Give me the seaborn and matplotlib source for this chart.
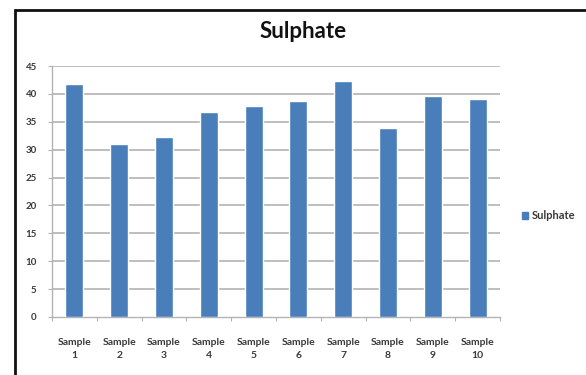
import matplotlib
matplotlib.use("Agg")
import matplotlib.pyplot as plt
import matplotlib.patches as mpatches
import matplotlib.lines as mlines
import seaborn as sns
import pandas as pd

samples = ["Sample\n1", "Sample\n2", "Sample\n3", "Sample\n4", "Sample\n5",
           "Sample\n6", "Sample\n7", "Sample\n8", "Sample\n9", "Sample\n10"]
sulphate = [41.7, 31.0, 32.2, 36.8, 37.8, 38.8, 42.3, 33.9, 39.6, 39.1]
y_ticks = [0, 5, 10, 15, 20, 25, 30, 35, 40, 45]

bar_color = "#4a7ebb"
grid_color = "#b3b3b3"
text_color = "#3a3a3a"

sns.set_theme(style="white")
plt.rcParams["font.family"] = ["Lato", "DejaVu Sans"]

df = pd.DataFrame({"Sample": samples, "Sulphate": sulphate})

fig = plt.figure(figsize=(5.86, 3.75), dpi=100, facecolor="white")
ax = fig.add_axes([52 / 586, 1 - 317 / 375, 448 / 586, 251 / 375])

sns.barplot(data=df, x="Sample", y="Sulphate", color=bar_color, width=0.4,
            saturation=1, ax=ax, zorder=3)

ax.set_ylim(0, 45)
ax.set_xlim(-0.5, len(samples) - 0.5)
ax.set_yticks(y_ticks)
ax.set_yticklabels([str(t) for t in y_ticks], fontsize=7, color=text_color,
                   fontweight="bold")
ax.set_xticks(range(len(samples)))
ax.set_xticklabels(samples, fontsize=7.5, color=text_color, linespacing=1.55,
                   fontweight="bold")
ax.set_xlabel("")
ax.set_ylabel("")

# horizontal gridlines
for t in y_ticks[1:]:
    ax.axhline(t, color=grid_color, lw=1.2, zorder=1)

for side in ["top", "right"]:
    ax.spines[side].set_visible(False)
ax.spines["left"].set_color(grid_color)
ax.spines["bottom"].set_color(grid_color)
ax.spines["left"].set_linewidth(1.0)
ax.spines["bottom"].set_linewidth(1.0)

# y ticks outward on left; x ticks at category boundaries
ax.tick_params(axis="y", which="major", left=True, length=3, width=0.8,
               color=grid_color, pad=8)
ax.tick_params(axis="x", which="major", bottom=False, pad=9)
ax.set_xticks([i - 0.5 for i in range(len(samples) + 1)], minor=True)
ax.tick_params(axis="x", which="minor", bottom=True, length=3, width=0.8,
               color=grid_color)

fig.text(303 / 586, 1 - 31 / 375, "Sulphate", ha="center", va="center",
         fontsize=16, fontweight="bold", color="#111111")

handle = mpatches.Patch(color=bar_color, label="Sulphate")
fig.legend(handles=[handle], loc="center left",
           bbox_to_anchor=(512 / 586, 1 - 216 / 375), frameon=False,
           handlelength=0.55, handleheight=0.55,
           handletextpad=0.35, labelcolor=text_color,
           prop={"weight": "bold", "size": 8})

# outer chart frame: left and top edges
x0 = 15 / 586
y0 = 1 - 10 / 375
fig.add_artist(mlines.Line2D([x0, x0], [0, y0], transform=fig.transFigure,
                             color="#111111", lw=2, solid_capstyle="projecting"))
fig.add_artist(mlines.Line2D([x0, 1.02], [y0, y0], transform=fig.transFigure,
                             color="#111111", lw=2, solid_capstyle="butt"))

fig.savefig("out.png", dpi=100, facecolor="white")
